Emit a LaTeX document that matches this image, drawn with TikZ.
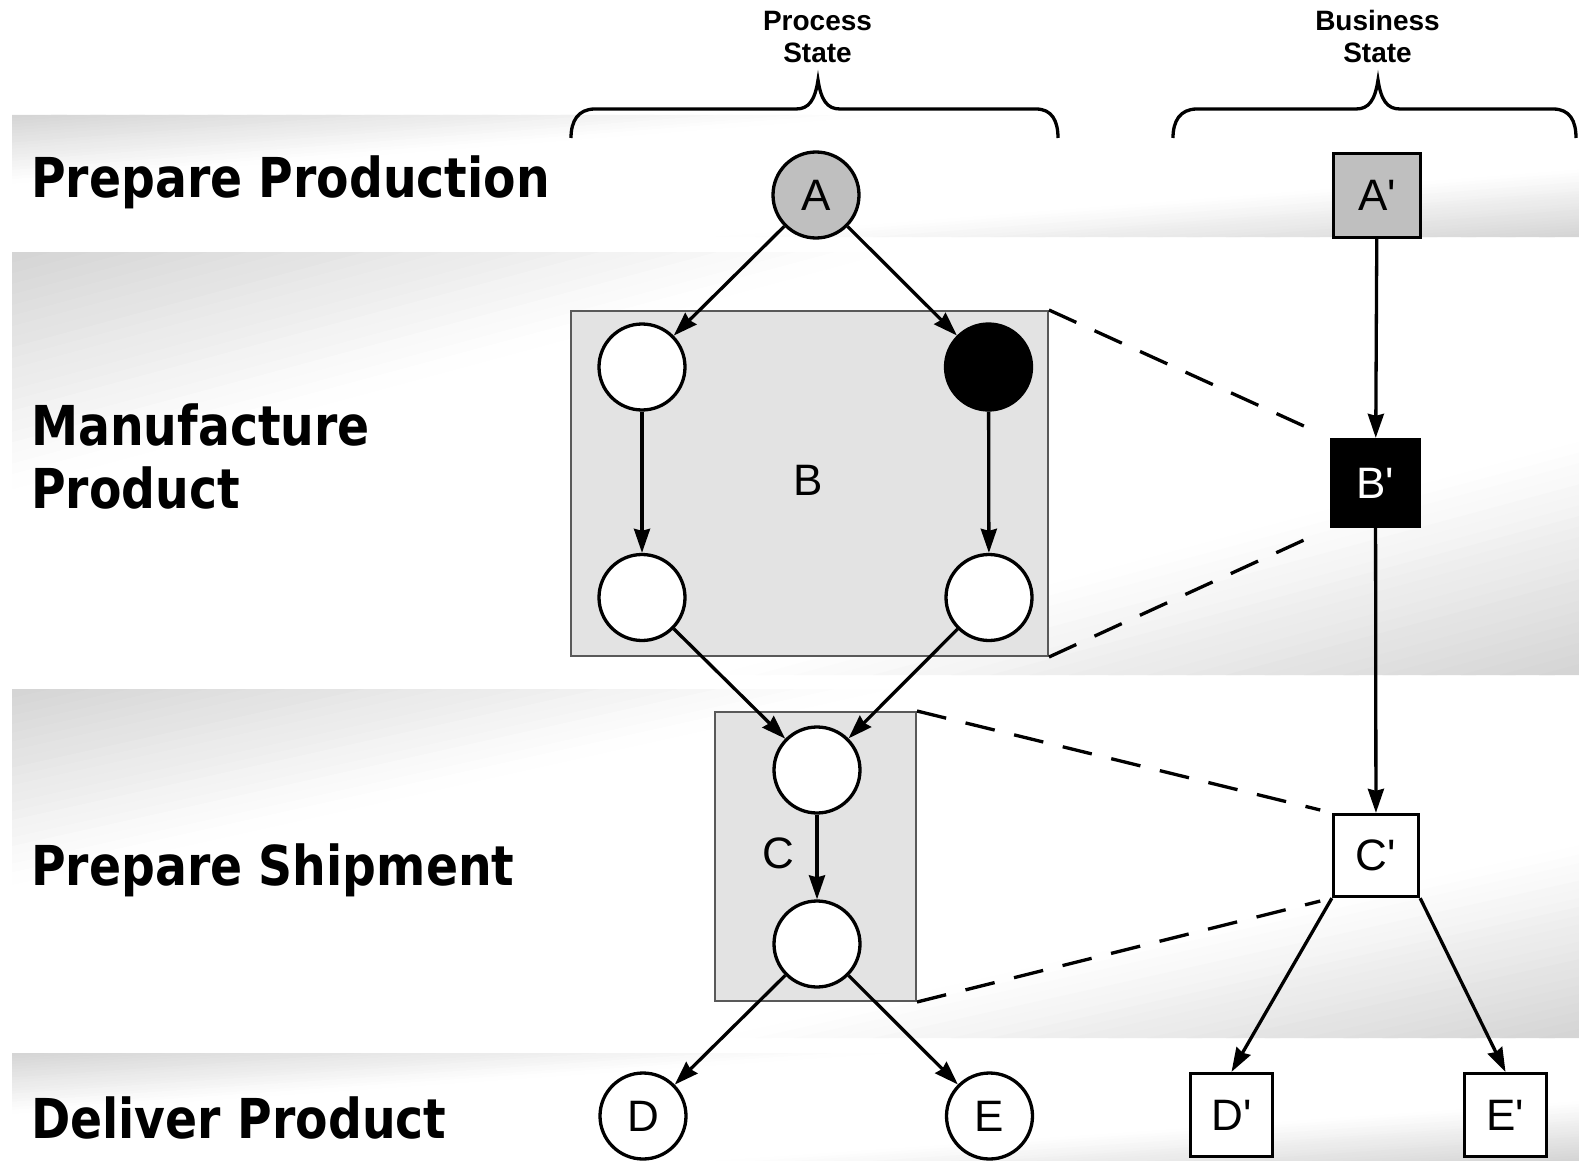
\documentclass[tikz,border=0pt]{standalone}
\usepackage{fontspec}
\newfontfamily\nf{Liberation Sans}[Ligatures=TeXOff]
\newfontfamily\lab{DejaVu Sans}
\usetikzlibrary{arrows.meta}
\definecolor{bandgray}{gray}{0.83}
\definecolor{nodegray}{gray}{0.75}
\definecolor{boxgray}{gray}{0.89}
\definecolor{boxline}{gray}{0.35}
% lane band with diagonal fade: grey at top-left and bottom-right corners
\newcommand\myLaneBand[4]{%
  \begin{scope}[shift={(#1,#2)}, x=#3pt, y=-#4pt]
    \clip (0,0) rectangle (1,1);
    \fill[white] (0,0) rectangle (1,1);
    \foreach \i in {0,...,79} {
      \pgfmathsetmacro\sa{\i*0.025}
      \pgfmathsetmacro\sb{\sa+0.035}
      \pgfmathsetmacro\sm{\sa+0.0125}
      \pgfmathtruncatemacro\pc{\sm<0.55 ? 100*(1-\sm/0.55) : (\sm>1.45 ? 100*(\sm-1.45)/0.55 : 0)}
      \ifnum\pc>0
        \fill[bandgray!\pc!white] (\sa,0) -- (\sb,0) -- (\sb-1,1) -- (\sa-1,1) -- cycle;
      \fi
    }
  \end{scope}}
\begin{document}
\begin{tikzpicture}[x=1pt,y=-1pt,
  lanelabel/.style={anchor=base west, inner sep=0pt, font=\lab\bfseries\fontsize{55}{63}\selectfont},
  colhead/.style={anchor=base, inner sep=0pt, font=\nf\bfseries\fontsize{28}{33}\selectfont},
  pstate/.style={circle, draw, line width=3.3pt, minimum size=86pt, inner sep=0pt, fill=white, font=\nf\fontsize{44}{44}\selectfont},
  bstate/.style={rectangle, draw, line width=3.3pt, inner sep=0pt, fill=white, font=\nf\fontsize{44}{44}\selectfont},
  grp/.style={rectangle, draw=boxline, line width=2pt, fill=boxgray, inner sep=0pt},
  grplabel/.style={inner sep=0pt, font=\nf\fontsize{44}{44}\selectfont},
  flow/.style={line width=3.3pt, -{Stealth[length=24pt,width=16pt,inset=2pt]}},
  mapline/.style={line width=3.3pt, dash pattern=on 30pt off 20pt},
  brace/.style={line width=3.3pt}
]
\useasboundingbox (0,0) rectangle (1579,1161);

% lanes
\myLaneBand{12}{115}{1567}{122}
\myLaneBand{12}{252}{1567}{423}
\myLaneBand{12}{689}{1567}{349}
\myLaneBand{12}{1053}{1567}{108}

% lane labels
\node[lanelabel] (L1) at (31,198) {\scalebox{0.86}[1]{Prepare Production}};
\node[lanelabel] (L2a) at (31,445) {\scalebox{0.86}[1]{Manufacture}};
\node[lanelabel] (L2b) at (31,508) {\scalebox{0.86}[1]{Product}};
\node[lanelabel] (L3) at (31,885) {\scalebox{0.86}[1]{Prepare Shipment}};
\node[lanelabel] (L4) at (31,1138) {\scalebox{0.86}[1]{Deliver Product}};

% column heads
\node[colhead] (H1a) at (817.5,31) {Process};
\node[colhead] (H1b) at (817.5,63) {State};
\node[colhead] (H2a) at (1377.5,31) {Business};
\node[colhead] (H2b) at (1377.5,63) {State};

% braces
\draw[brace] (571,138) .. controls (571,121) and (578,109) .. (595,109) -- (796,109)
  .. controls (809,109) and (815,100) .. (818,80) .. controls (821,100) and (827,109) .. (840,109)
  -- (1036,109) .. controls (1052,109) and (1058,121) .. (1058,138);
\draw[brace] (1173,138) .. controls (1173,121) and (1180,109) .. (1197,109) -- (1356,109)
  .. controls (1369,109) and (1375,100) .. (1378,80) .. controls (1381,100) and (1387,109) .. (1400,109)
  -- (1553,109) .. controls (1570,109) and (1576,121) .. (1576,138);

% group boxes
\node[grp, minimum width=477pt, minimum height=345pt] (Bbox) at (809.5,483.5) {};
\node[grp, minimum width=201pt, minimum height=289pt] (Cbox) at (815.5,856.5) {};
\node[grplabel] (Blab) at (808,480) {B};
\node[grplabel] (Clab) at (778,853) {C};

% process states
\node[pstate, fill=nodegray] (A) at (816,195) {A};
\node[pstate] (B1) at (642,367) {};
\node[pstate, fill=black] (B2) at (988.5,367) {};
\node[pstate] (B3) at (642,597.5) {};
\node[pstate] (B4) at (989,597.5) {};
\node[pstate] (C1) at (817,770) {};
\node[pstate] (C2) at (817,944) {};
\node[pstate] (D) at (643,1116) {D};
\node[pstate] (E) at (989.5,1116) {E};

% business states
\node[bstate, fill=nodegray, minimum width=87pt, minimum height=84pt] (Ap) at (1377,195.5) {A'};
\node[bstate, fill=black, text=white, minimum width=88pt, minimum height=87pt] (Bp) at (1375.5,483) {B'};
\node[bstate, minimum width=85pt, minimum height=82pt] (Cp) at (1376,855.5) {C'};
\node[bstate, minimum width=82pt, minimum height=83pt] (Dp) at (1231.5,1115) {D'};
\node[bstate, minimum width=82pt, minimum height=83pt] (Ep) at (1505.5,1115) {E'};

% flows
\draw[flow] (A) -- (B1);
\draw[flow] (A) -- (B2);
\draw[flow] (B1) -- (B3);
\draw[flow] (B2) -- (B4);
\draw[flow] (B3) -- (C1);
\draw[flow] (B4) -- (C1);
\draw[flow] (C1) -- (C2);
\draw[flow] (C2) -- (D);
\draw[flow] (C2) -- (E);
\draw[flow] (Ap) -- (Bp);
\draw[flow] (Bp) -- (Cp);
\draw[flow] (Cp.south west) -- (Dp.north);
\draw[flow] (Cp.south east) -- (Ep.north);

% mappings
\draw[mapline, shorten >=12pt] (Bbox.north east) -- (Bp.north west);
\draw[mapline, shorten >=12pt] (Bbox.south east) -- (Bp.south west);
\draw[mapline, shorten >=12pt] (Cbox.north east) -- (Cp.north west);
\draw[mapline, shorten >=12pt] (Cbox.south east) -- (Cp.south west);
\end{tikzpicture}
\end{document}
